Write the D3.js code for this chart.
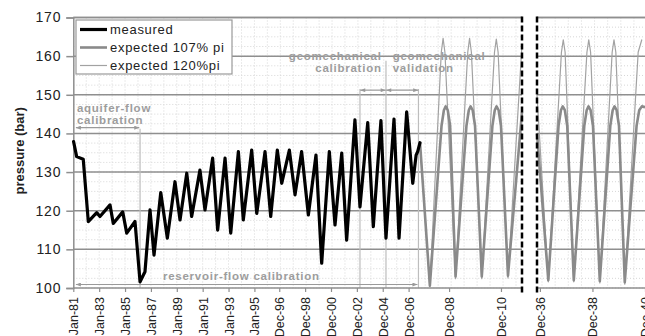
<!DOCTYPE html>
<html>
<head>
<meta charset="utf-8">
<script src="https://cdn.jsdelivr.net/npm/d3@7"></script>
<style>
  body { margin: 0; background: #fff; }
  text { font-family: "Liberation Sans", Arial, sans-serif; }
</style>
</head>
<body>
<svg id="chart" width="645" height="336"></svg>
<script>
// measured pressure, [decimal year, bar]
const measured = [
  [1981.02, 137.9], [1981.26, 134.0], [1981.77, 133.3], [1982.16, 117.2], [1982.81, 119.5],
  [1983.06, 118.5], [1983.84, 121.5], [1984.09, 116.7], [1984.82, 119.7], [1985.13, 114.2],
  [1985.77, 117.2], [1986.16, 101.6], [1986.54, 104.2], [1986.93, 120.2], [1987.24, 108.5],
  [1987.76, 124.7], [1988.27, 112.9], [1988.86, 127.5], [1989.25, 117.6], [1989.77, 129.7],
  [1990.15, 118.5], [1990.79, 130.5], [1991.18, 120.2], [1991.77, 133.6], [1992.16, 115.0],
  [1992.73, 133.6], [1993.17, 114.2], [1993.76, 135.3], [1994.14, 117.6], [1994.79, 135.7],
  [1995.18, 119.3], [1995.82, 135.3], [1996.26, 118.5], [1996.77, 135.7], [1997.11, 127.1],
  [1997.70, 135.7], [1998.14, 124.1], [1998.65, 135.3], [1999.17, 118.9], [1999.76, 134.4],
  [2000.20, 106.4], [2000.79, 135.3], [2001.23, 116.3], [2001.75, 134.9], [2002.13, 112.4],
  [2002.77, 143.5], [2003.16, 121.0], [2003.76, 142.8], [2004.19, 115.9], [2004.78, 143.3],
  [2005.17, 112.9], [2005.79, 143.7], [2006.18, 112.9], [2006.77, 145.6], [2007.24, 127.1],
  [2007.50, 134.4], [2007.62, 135.3], [2007.80, 137.6]
];

// expected 107% pi, before and after the axis break
const expected107a = [
  [2007.80, 137.6], [2008.18, 100.6],
  [2008.63, 142.0], [2008.72, 146.0], [2008.79, 147.0], [2008.87, 146.0], [2008.96, 142.0],
  [2009.17, 103.0],
  [2009.59, 142.0], [2009.68, 146.0], [2009.75, 147.0], [2009.83, 146.0], [2009.92, 142.0],
  [2010.18, 103.0],
  [2010.59, 142.0], [2010.68, 146.0], [2010.75, 147.0], [2010.83, 146.0], [2010.92, 142.0],
  [2011.19, 103.2], [2011.73, 145.5]
];
const expected107b = [
  [2036.81, 140.0], [2037.24, 102.0],
  [2037.63, 142.0], [2037.72, 146.0], [2037.79, 147.0], [2037.87, 146.0], [2037.96, 142.0],
  [2038.21, 102.0],
  [2038.61, 142.0], [2038.70, 146.0], [2038.77, 147.0], [2038.85, 146.0], [2038.94, 142.0],
  [2039.20, 101.8],
  [2039.60, 142.0], [2039.69, 146.0], [2039.76, 147.0], [2039.84, 146.0], [2039.93, 142.0],
  [2040.15, 101.5],
  [2040.60, 142.0], [2040.70, 146.0], [2040.80, 147.0], [2040.92, 146.8]
];

// expected 120% pi
const expected120a = [
  [2007.80, 137.6], [2008.18, 100.2], [2008.62, 161.0], [2008.69, 164.6], [2008.76, 161.0],
  [2009.17, 102.4], [2009.64, 161.0], [2009.71, 164.6], [2009.78, 161.0], [2010.18, 102.4],
  [2010.67, 161.0], [2010.74, 164.4], [2010.81, 161.0], [2011.19, 102.6], [2011.73, 163.0]
];
const expected120b = [
  [2036.81, 150.0], [2037.24, 101.6], [2037.74, 161.0], [2037.81, 164.2], [2037.88, 161.0],
  [2038.21, 101.6], [2038.71, 161.0], [2038.78, 164.2], [2038.85, 161.0], [2039.20, 101.3],
  [2039.67, 161.0], [2039.74, 164.2], [2039.81, 161.0], [2040.15, 101.0], [2040.66, 161.0],
  [2040.80, 164.3]
];

const yTicks = [100, 110, 120, 130, 140, 150, 160, 170];
const xTickYears = [1981, 1983, 1985, 1987, 1989, 1991, 1993, 1995, 1996.92, 1998.92, 2000.92,
  2002.92, 2004.92, 2006.92, 2008.92, 2010.92, 2036.92, 2038.92, 2040.92];
const xTickLabels = ['Jan-81', 'Jan-83', 'Jan-85', 'Jan-87', 'Jan-89', 'Jan-91', 'Jan-93', 'Jan-95',
  'Dec-96', 'Dec-98', 'Dec-00', 'Dec-02', 'Dec-04', 'Dec-06', 'Dec-08', 'Dec-10',
  'Dec-36', 'Dec-38', 'Dec-40'];

// the axis is stretched after the measured data and broken between 2011 and 2036
const xBreaks = [1981, 2007.8, 2011.73, 2036.81, 2040.92];
const panels = [[1981, 2011.73], [2036.81, 2040.92]];

const svg = d3.select('#chart');

const x = d3.scaleLinear().domain(xBreaks).range([73.3, 420, 522, 537, 645]);
const y = d3.scaleLinear().domain([100, 170]).range([288, 17.5]);

const grid = svg.append('g').attr('class', 'grid');

// faint dotted minor grid
panels.forEach(p => {
  grid.selectAll(null)
    .data(d3.range(100, 170, 2.5))
    .enter().append('line')
    .attr('x1', x(p[0])).attr('x2', x(p[1]))
    .attr('y1', d => y(d)).attr('y2', d => y(d))
    .attr('stroke', '#d6d6d6').attr('stroke-dasharray', '1,2');
});
const minorYears = d3.range(1982, 2008, 1)
  .concat(d3.range(2008, 2011.7, 0.5))
  .concat(d3.range(2037, 2041, 0.5));
grid.selectAll(null)
  .data(minorYears)
  .enter().append('line')
  .attr('x1', d => x(d)).attr('x2', d => x(d))
  .attr('y1', y(170)).attr('y2', y(100))
  .attr('stroke', '#d6d6d6').attr('stroke-dasharray', '1,2');

// major horizontal lines
panels.forEach(p => {
  grid.selectAll(null)
    .data(yTicks.slice(1))
    .enter().append('line')
    .attr('x1', x(p[0])).attr('x2', x(p[1]))
    .attr('y1', d => y(d)).attr('y2', d => y(d))
    .attr('stroke', '#8f8f8f').attr('stroke-width', 1.5);
});

// calibration periods
const periodLines = [
  { year: 1986.16, top: 141.2 },
  { year: 2003.16, top: 151.5 },
  { year: 2005.17, top: 158.8 },
  { year: 2007.68, top: 151.5 }
];
svg.append('g').selectAll('line')
  .data(periodLines)
  .enter().append('line')
  .attr('x1', d => x(d.year)).attr('x2', d => x(d.year))
  .attr('y1', d => y(d.top)).attr('y2', y(100))
  .attr('stroke', '#bdbdbd').attr('stroke-width', 1.2);

// axes
const yAxis = svg.append('g')
  .attr('transform', `translate(${x(1981)},0)`)
  .call(d3.axisLeft(y).tickValues(yTicks).tickSize(7).tickPadding(5));
yAxis.select('.domain').attr('stroke', '#8f8f8f').attr('stroke-width', 1.5);
yAxis.selectAll('.tick line').attr('stroke', '#8f8f8f').attr('stroke-width', 1.5);
yAxis.selectAll('.tick text')
  .attr('font-size', 14).attr('letter-spacing', 0.8).attr('fill', '#222')
  .style('font-family', '"Liberation Sans", Arial, sans-serif');

const xAxis = svg.append('g')
  .attr('transform', `translate(0,${y(100)})`)
  .call(d3.axisBottom(x).tickValues(xTickYears)
    .tickFormat((d, i) => xTickLabels[i]).tickSize(4).tickSizeOuter(0));
xAxis.select('.domain').remove();
xAxis.selectAll('.tick line').attr('stroke', '#8f8f8f').attr('stroke-width', 1.2);
xAxis.selectAll('.tick text')
  .attr('font-size', 12.5).attr('fill', '#222')
  .attr('text-anchor', 'end')
  .attr('transform', 'rotate(-90)')
  .attr('x', -9).attr('y', 0).attr('dy', '0.36em')
  .style('font-family', '"Liberation Sans", Arial, sans-serif');

// bottom axis and top border, both broken
panels.forEach(p => {
  svg.append('line')
    .attr('x1', x(p[0])).attr('x2', x(p[1]))
    .attr('y1', y(100)).attr('y2', y(100))
    .attr('stroke', '#8f8f8f').attr('stroke-width', 1.5);
  svg.append('line')
    .attr('x1', x(p[0])).attr('x2', x(p[1]))
    .attr('y1', y(170)).attr('y2', y(170))
    .attr('stroke', '#8f8f8f').attr('stroke-width', 1.5);
});

// series
const line = d3.line().x(d => x(d[0])).y(d => y(d[1]));

const series120 = { color: '#a2a2a2', width: 1.2 };
const series107 = { color: '#8a8a8a', width: 2.6 };
const seriesMeasured = { color: '#000', width: 3.2 };

[expected120a, expected120b].forEach(s => {
  svg.append('path').datum(s).attr('d', line)
    .attr('fill', 'none').attr('stroke', series120.color)
    .attr('stroke-width', series120.width).attr('stroke-linejoin', 'round');
});
[expected107a, expected107b].forEach(s => {
  svg.append('path').datum(s).attr('d', line)
    .attr('fill', 'none').attr('stroke', series107.color)
    .attr('stroke-width', series107.width).attr('stroke-linejoin', 'round');
});
svg.append('path').datum(measured).attr('d', line)
  .attr('fill', 'none').attr('stroke', seriesMeasured.color)
  .attr('stroke-width', seriesMeasured.width)
  .attr('stroke-linejoin', 'round').attr('stroke-linecap', 'round');

// axis break markers
svg.append('g').selectAll('line')
  .data([xBreaks[2], xBreaks[3]])
  .enter().append('line')
  .attr('x1', d => x(d)).attr('x2', d => x(d))
  .attr('y1', y(170) - 1).attr('y2', y(100) + 6)
  .attr('stroke', '#000').attr('stroke-width', 2.5)
  .attr('stroke-dasharray', '6,3');

// arrows and annotation texts
const defs = svg.append('defs');
['start', 'end'].forEach(k => {
  defs.append('marker')
    .attr('id', 'arrow-' + k)
    .attr('viewBox', '0 -4 10 8')
    .attr('refX', k === 'end' ? 10 : 0).attr('refY', 0)
    .attr('markerWidth', 9).attr('markerHeight', 4)
    .attr('markerUnits', 'userSpaceOnUse')
    .attr('orient', 'auto')
    .append('path')
    .attr('d', k === 'end' ? 'M0,-4L10,0L0,4Z' : 'M10,-4L0,0L10,4Z')
    .attr('fill', '#9a9a9a');
});

const arrows = [
  { from: 1981.2, to: 1986.1, value: 141.5 },
  { from: 2003.18, to: 2005.15, value: 151.2 },
  { from: 2005.19, to: 2007.66, value: 151.2 },
  { from: 1981.2, to: 2007.6, value: 100.9 }
];
svg.append('g').selectAll('line')
  .data(arrows)
  .enter().append('line')
  .attr('x1', d => x(d.from)).attr('x2', d => x(d.to))
  .attr('y1', d => y(d.value)).attr('y2', d => y(d.value))
  .attr('stroke', '#9a9a9a').attr('stroke-width', 1.2)
  .attr('marker-start', 'url(#arrow-start)')
  .attr('marker-end', 'url(#arrow-end)');

const notes = [
  { text: 'aquifer-flow', year: 1981.28, value: 145.6, anchor: 'start' },
  { text: 'calibration', year: 1981.28, value: 142.4, anchor: 'start' },
  { text: 'geomechanical', year: 2004.84, value: 159.0, anchor: 'end' },
  { text: 'calibration', year: 2004.84, value: 155.8, anchor: 'end' },
  { text: 'geomechanical', year: 2005.69, value: 159.0, anchor: 'start' },
  { text: 'validation', year: 2005.69, value: 155.8, anchor: 'start' },
  { text: 'reservoir-flow calibration', year: 1987.93, value: 102.1, anchor: 'start' }
];
svg.append('g').selectAll('text')
  .data(notes)
  .enter().append('text')
  .attr('x', d => x(d.year)).attr('y', d => y(d.value))
  .attr('text-anchor', d => d.anchor)
  .attr('font-size', 11.5).attr('font-weight', 'bold')
  .attr('letter-spacing', 0.75)
  .attr('fill', '#9d9d9d')
  .text(d => d.text);

// y title
svg.append('text')
  .attr('transform', `translate(24,${y(135.5)}) rotate(-90)`)
  .attr('text-anchor', 'middle')
  .attr('font-size', 13).attr('font-weight', 'bold').attr('fill', '#222')
  .text('pressure (bar)');

// legend
const legendItems = [
  { label: 'measured', s: seriesMeasured },
  { label: 'expected 107% pi', s: series107 },
  { label: 'expected 120%pi', s: series120 }
];
const legend = svg.append('g').attr('transform', 'translate(76,20)');
legend.append('rect')
  .attr('width', 156).attr('height', 54)
  .attr('fill', '#fff').attr('stroke', '#999').attr('stroke-width', 1.2);
const li = legend.selectAll('g.item')
  .data(legendItems)
  .enter().append('g')
  .attr('transform', (d, i) => `translate(0,${9.5 + i * 18})`);
li.append('line')
  .attr('x1', 4).attr('x2', 31)
  .attr('stroke', d => d.s.color)
  .attr('stroke-width', d => d.s.width);
li.append('text')
  .attr('x', 34).attr('dy', '0.35em')
  .attr('font-size', 13).attr('letter-spacing', 0.7).attr('fill', '#222')
  .text(d => d.label);
</script>
</body>
</html>
